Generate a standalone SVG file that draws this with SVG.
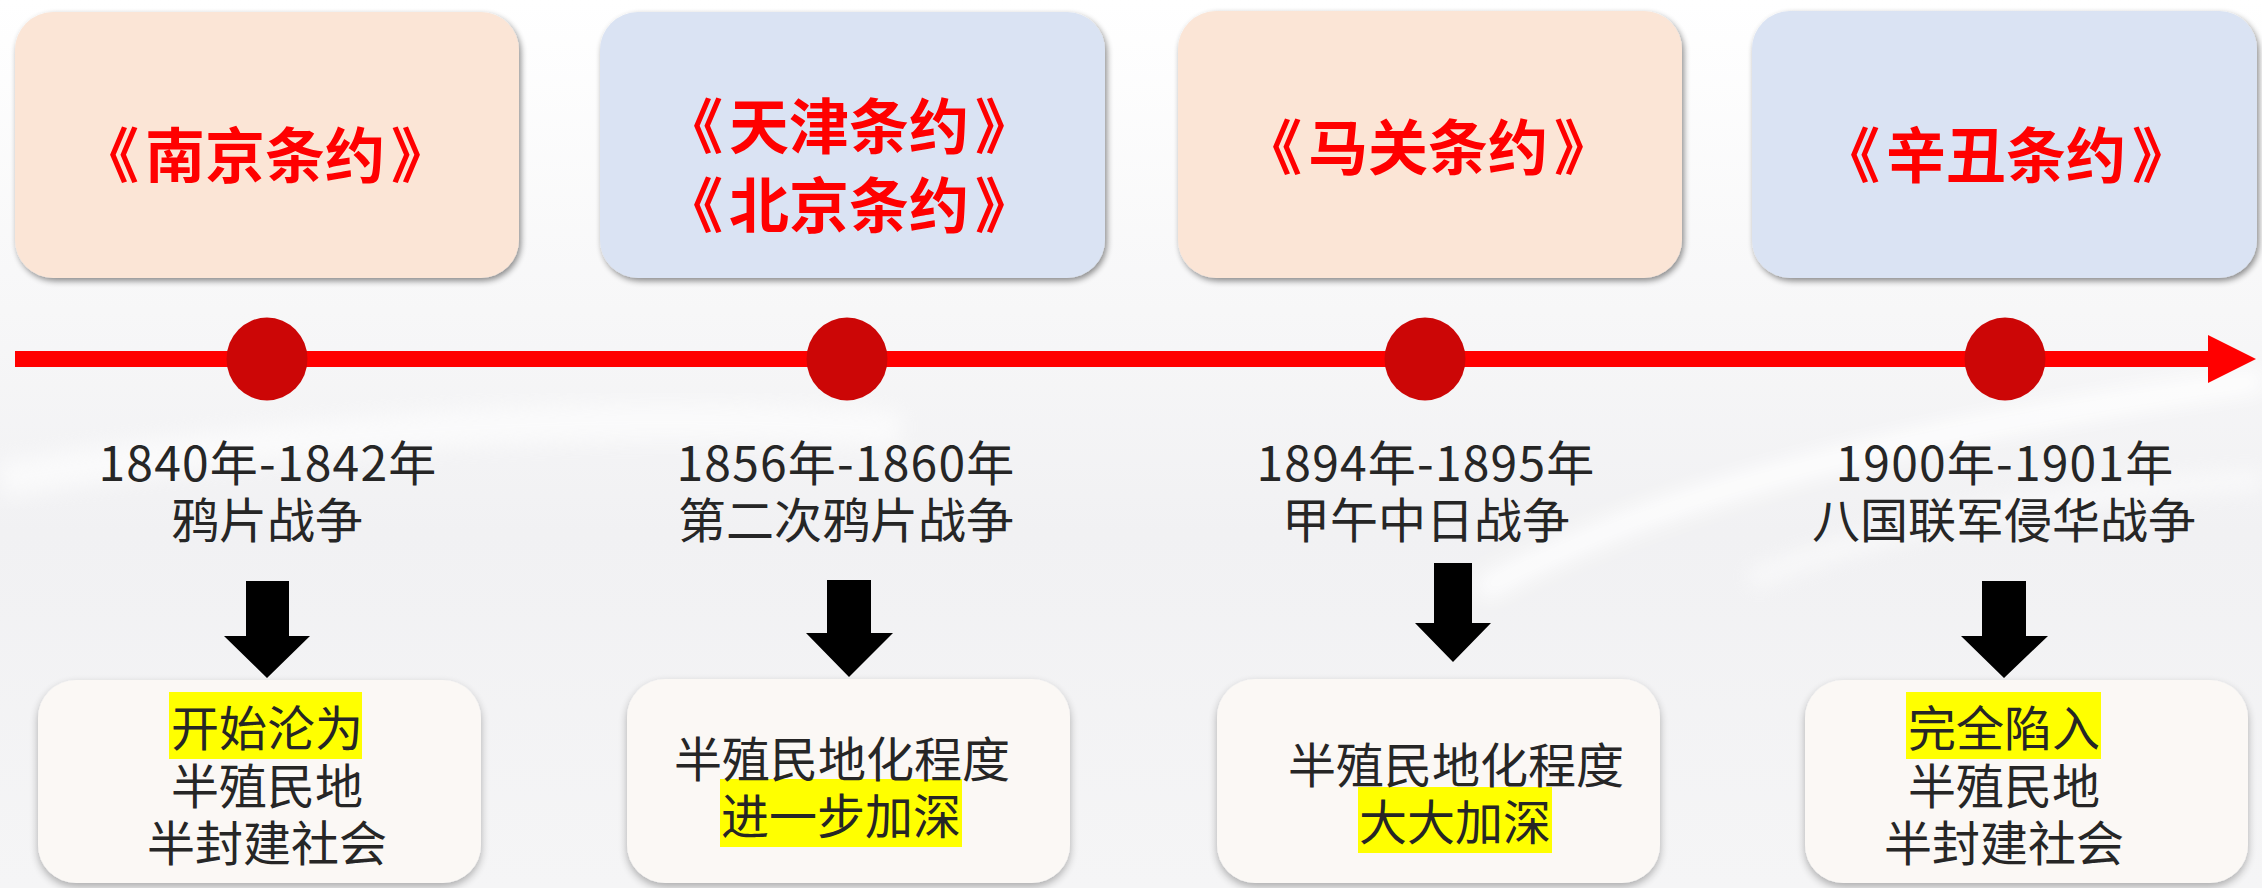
<svg xmlns="http://www.w3.org/2000/svg" width="2262" height="888" viewBox="0 0 2262 888">
<style>
.title{font-family:"Noto Sans CJK SC","Microsoft YaHei",sans-serif;font-weight:700;font-size:60px;fill:#FF0000;text-anchor:middle}
.txt{font-family:"Noto Sans CJK SC","Microsoft YaHei",sans-serif;font-size:48px;fill:#262626;text-anchor:middle}
.yr{letter-spacing:1.2px}
.peach{fill:#FBE5D6}
.blue{fill:#DAE3F3}
.res{fill:#FBF8F5}
.hl{fill:#FFFF00}
.dot{fill:#CC0606}
.down{fill:#000000}
</style>
<defs>
<linearGradient id="bg" x1="0" y1="0" x2="0" y2="1">
<stop offset="0" stop-color="#FFFFFF"/>
<stop offset="0.35" stop-color="#F7F7F8"/>
<stop offset="0.6" stop-color="#F1F1F3"/>
<stop offset="1" stop-color="#F5F5F6"/>
</linearGradient>
<filter id="sh" x="-10%" y="-10%" width="120%" height="125%">
<feGaussianBlur in="SourceAlpha" stdDeviation="3"/>
<feOffset dx="2" dy="3"/>
<feComponentTransfer><feFuncA type="linear" slope="0.45"/></feComponentTransfer>
<feMerge><feMergeNode/><feMergeNode in="SourceGraphic"/></feMerge>
</filter>
<filter id="sh2" x="-10%" y="-10%" width="120%" height="125%">
<feGaussianBlur in="SourceAlpha" stdDeviation="4"/>
<feOffset dx="0" dy="4"/>
<feComponentTransfer><feFuncA type="linear" slope="0.3"/></feComponentTransfer>
<feMerge><feMergeNode/><feMergeNode in="SourceGraphic"/></feMerge>
</filter>
<filter id="blur" x="-20%" y="-50%" width="140%" height="200%"><feGaussianBlur stdDeviation="10"/></filter>
</defs>

<g id="background">
<rect x="0" y="0" width="2262" height="888" fill="url(#bg)"/>
<path d="M1480 590 C1650 500 1850 440 2262 380" stroke="#FFFFFF" stroke-width="22" fill="none" filter="url(#blur)" opacity="0.95"/>
<path d="M0 480 C300 430 600 410 900 430" stroke="#FFFFFF" stroke-width="36" fill="none" filter="url(#blur)" opacity="0.6"/>
<path d="M1750 580 C1900 520 2080 490 2262 480" stroke="#FFFFFF" stroke-width="18" fill="none" filter="url(#blur)" opacity="0.6"/>
</g>

<g id="connectors">
<line x1="15" y1="359" x2="2212" y2="359" stroke="#FF0000" stroke-width="16"/>
<polygon points="2208,335 2256,359 2208,383" fill="#FF0000"/>
<polygon class="down" points="246,581 289,581 289,636 310,636 267,678 224,636 246,636"/>
<polygon class="down" points="827,580 871,580 871,633 893,633 849,677 806,633 827,633"/>
<polygon class="down" points="1434,563 1472,563 1472,623 1491,623 1453,662 1415,623 1434,623"/>
<polygon class="down" points="1982,581 2026,581 2026,636 2048,636 2004,678 1961,636 1982,636"/>
</g>

<g id="treaty1">
<rect class="peach" x="15" y="12" width="504" height="266" rx="38" filter="url(#sh)"/>
<text class="title" x="265" y="178">《<tspan dx="6">南京条约</tspan><tspan dx="6">》</tspan></text>
</g>
<g id="treaty2">
<rect class="blue" x="600" y="12" width="505" height="266" rx="38" filter="url(#sh)"/>
<text class="title" x="849" y="149">《<tspan dx="6">天津条约</tspan><tspan dx="6">》</tspan></text>
<text class="title" x="849" y="228">《<tspan dx="6">北京条约</tspan><tspan dx="6">》</tspan></text>
</g>
<g id="treaty3">
<rect class="peach" x="1178" y="11" width="504" height="267" rx="38" filter="url(#sh)"/>
<text class="title" x="1428" y="170">《<tspan dx="6">马关条约</tspan><tspan dx="6">》</tspan></text>
</g>
<g id="treaty4">
<rect class="blue" x="1752" y="11" width="505" height="267" rx="38" filter="url(#sh)"/>
<text class="title" x="2006" y="178">《<tspan dx="6">辛丑条约</tspan><tspan dx="6">》</tspan></text>
</g>

<g id="dot1"><ellipse class="dot" cx="267" cy="359" rx="40.5" ry="41.5"/></g>
<g id="dot2"><ellipse class="dot" cx="847" cy="359" rx="40.5" ry="41.5"/></g>
<g id="dot3"><ellipse class="dot" cx="1425" cy="359" rx="40.5" ry="41.5"/></g>
<g id="dot4"><ellipse class="dot" cx="2005" cy="359" rx="40.5" ry="41.5"/></g>

<g id="war1">
<text class="txt yr" x="268" y="481">1840年-1842年</text>
<text class="txt" x="267" y="538">鸦片战争</text>
</g>
<g id="war2">
<text class="txt yr" x="846" y="481">1856年-1860年</text>
<text class="txt" x="846" y="538">第二次鸦片战争</text>
</g>
<g id="war3">
<text class="txt yr" x="1426" y="481">1894年-1895年</text>
<text class="txt" x="1426" y="538">甲午中日战争</text>
</g>
<g id="war4">
<text class="txt yr" x="2005" y="481">1900年-1901年</text>
<text class="txt" x="2004" y="538">八国联军侵华战争</text>
</g>

<g id="result1">
<rect class="res" x="38" y="680" width="443" height="203" rx="38" filter="url(#sh2)"/>
<rect class="hl" x="169" y="692" width="193" height="67"/>
<text class="txt" x="267" y="746">开始沦为</text>
<text class="txt" x="267" y="804">半殖民地</text>
<text class="txt" x="267" y="861">半封建社会</text>
</g>
<g id="result2">
<rect class="res" x="627" y="679" width="443" height="204" rx="38" filter="url(#sh2)"/>
<rect class="hl" x="720" y="779" width="242" height="68"/>
<text class="txt" x="842" y="777">半殖民地化程度</text>
<text class="txt" x="841" y="834">进一步加深</text>
</g>
<g id="result3">
<rect class="res" x="1217" y="679" width="443" height="204" rx="38" filter="url(#sh2)"/>
<rect class="hl" x="1358" y="787" width="194" height="66"/>
<text class="txt" x="1456" y="783">半殖民地化程度</text>
<text class="txt" x="1455" y="840">大大加深</text>
</g>
<g id="result4">
<rect class="res" x="1805" y="680" width="443" height="203" rx="38" filter="url(#sh2)"/>
<rect class="hl" x="1906" y="692" width="195" height="67"/>
<text class="txt" x="2004" y="746">完全陷入</text>
<text class="txt" x="2004" y="804">半殖民地</text>
<text class="txt" x="2004" y="861">半封建社会</text>
</g>
</svg>
